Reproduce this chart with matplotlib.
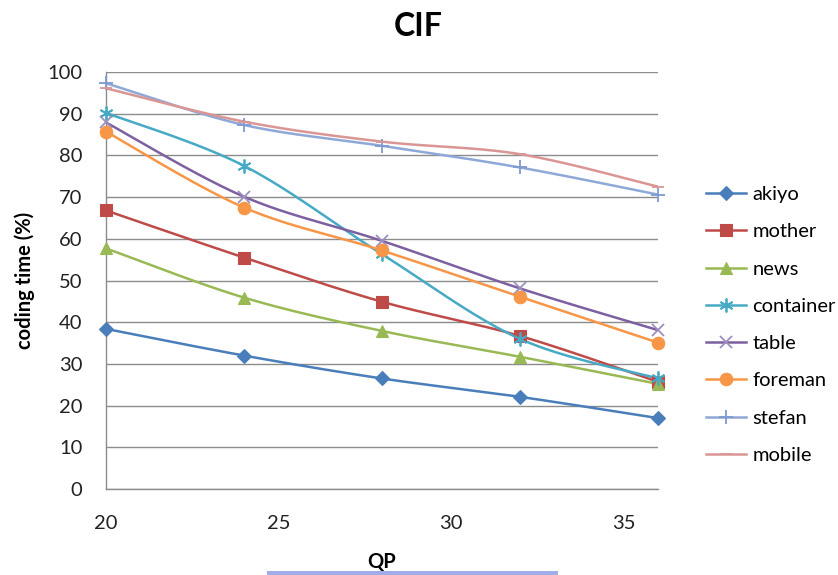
import numpy as np
import matplotlib
matplotlib.use("Agg")
import matplotlib.pyplot as plt
from matplotlib.patches import Rectangle

plt.rcParams['font.family'] = ['Lato', 'DejaVu Sans']

qp = [20, 24, 28, 32, 36]
series_names = ["akiyo", "mother", "news", "container", "table", "foreman", "stefan", "mobile"]
akiyo = [38.4, 32.0, 26.5, 22.1, 17.0]
mother = [66.8, 55.5, 44.9, 36.7, 25.7]
news = [57.7, 45.9, 37.9, 31.7, 25.2]
container = [90.2, 77.5, 56.3, 36.0, 26.5]
table = [87.9, 70.1, 59.5, 48.1, 38.1]
foreman = [85.7, 67.5, 57.2, 46.1, 35.1]
stefan = [97.3, 87.3, 82.3, 77.1, 70.6]
mobile = [96.1, 88.1, 83.3, 80.3, 72.5]
x_ticks = [20, 25, 30, 35]
y_ticks = list(range(0, 101, 10))

values = [akiyo, mother, news, container, table, foreman, stefan, mobile]
colors = ["#4A7EBB", "#BE4B48", "#98B954", "#46AAC5", "#7D60A0", "#F79646", "#8EA8D8", "#D99694"]
marker_colors = ["#4A7EBB", "#BE4B48", "#98B954", "#46AAC5", "#9D8EC0", "#F79646", "#7F9AD0", "#D99694"]
markers = ["D", "s", "^", (6, 2, 0), "x", "o", "+", "_"]
msizes = [7, 9, 9, 10, 9, 9, 10, 8]


def smooth(xs, ys, n=40):
    """Catmull-Rom style cubic Bezier through the points (spreadsheet smoothing)."""
    p = np.column_stack([xs, ys]).astype(float)
    ext = np.vstack([p[0], p, p[-1]])
    out = []
    t = np.linspace(0, 1, n)[:, None]
    for i in range(1, len(ext) - 2):
        p0, p3 = ext[i], ext[i + 1]
        c1 = p0 + (ext[i + 1] - ext[i - 1]) / 6.0
        c2 = p3 - (ext[i + 2] - ext[i]) / 6.0
        seg = ((1 - t) ** 3) * p0 + 3 * ((1 - t) ** 2) * t * c1 + 3 * (1 - t) * t ** 2 * c2 + t ** 3 * p3
        out.append(seg if i == 1 else seg[1:])
    s = np.vstack(out)
    return s[:, 0], s[:, 1]


fig = plt.figure(figsize=(8.38, 5.75), dpi=100)
ax = fig.add_axes([106 / 838, 86 / 575, 552 / 838, 417 / 575])

handles = []
for name, ys, c, mc, m, ms in zip(series_names, values, colors, marker_colors, markers, msizes):
    sx, sy = smooth(qp, ys)
    ax.plot(sx, sy, color=c, lw=1.8, solid_capstyle='round', zorder=3)
    mew = 1.3 if m in ("x", "+", "_", (6, 2, 0)) else 0.8
    ax.plot(qp, ys, ls='none', marker=m, ms=ms, color=mc, mec=mc, mew=mew, zorder=4, clip_on=False)
    h, = ax.plot([], [], color=c, lw=1.8, marker=m, ms=ms, mfc=mc, mec=mc, mew=mew)
    handles.append(h)

ax.set_xlim(20, 36)
ax.set_ylim(0, 100)
ax.set_xticks(x_ticks)
ax.set_yticks(y_ticks)
ax.yaxis.grid(True, color="#8C8C8C", lw=1.0)
ax.set_axisbelow(True)
for side in ("top", "right"):
    ax.spines[side].set_visible(False)
for side in ("left", "bottom"):
    ax.spines[side].set_color("#8C8C8C")
    ax.spines[side].set_linewidth(1.0)
ax.tick_params(axis='both', length=0, labelsize=14.5, colors="#222222")
ax.tick_params(axis='x', pad=19)
ax.tick_params(axis='y', pad=17)

ax.set_xlabel("QP", fontsize=14.5, fontweight='bold', labelpad=14)
ax.set_ylabel("coding time (%)", fontsize=14.5, fontweight='bold', labelpad=9)
fig.text(418 / 838, 1 - 26 / 575, "CIF", ha='center', va='center', fontsize=23, fontweight='bold')

leg = fig.legend(handles, series_names, loc='center left', bbox_to_anchor=(698 / 838, 1 - 325 / 575),
                 frameon=False, fontsize=14.5, handlelength=2.0, handletextpad=0.3,
                 labelspacing=1.0, borderaxespad=0)

fig.patches.append(Rectangle((267 / 838, 0), 291 / 838, 4 / 575, transform=fig.transFigure,
                             facecolor="#9FADE8", edgecolor='none'))

fig.savefig("out.png", dpi=100)
